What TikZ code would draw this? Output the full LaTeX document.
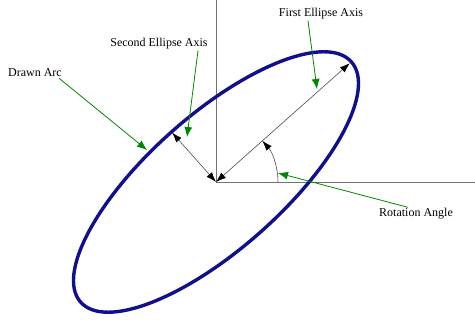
\documentclass[tikz,border=0pt]{standalone}
\usepackage{fontspec}
\setmainfont{Liberation Serif}
\usetikzlibrary{arrows.meta}
\definecolor{ellblue}{RGB}{16,16,140}
\definecolor{callgreen}{RGB}{0,135,0}
\begin{document}
\begin{tikzpicture}[x=1pt, y=1pt,
        label/.style={font=\fontsize{12}{14}\selectfont, inner sep=1pt},
        axis/.style={draw=black!55, line width=0.8pt},
        dim/.style={draw=black!70, line width=0.6pt, {Latex[length=10pt,width=7pt,color=black]}-{Latex[length=10pt,width=7pt,color=black]}},
        callout/.style={draw=callgreen, line width=0.8pt, -{Latex[length=10pt,width=8pt]}}
    ]
        \useasboundingbox (-216,-138) rectangle (259,182);

        \coordinate (center) at (0,0);
        \coordinate (ytop) at (0,182);
        \coordinate (xend) at (259,0);
        \coordinate (major) at (41.6:179);
        \coordinate (minor) at (131.6:66);

        \draw[axis] (center) -- (ytop);
        \draw[axis] (center) -- (xend);

        \draw[ellblue, line width=3.4pt, rotate=41.6] (center) ellipse (181 and 67);

        \draw[dim] (center) -- (major);
        \draw[dim] (center) -- (minor);
        \draw[draw=black!70, line width=0.6pt, -{Latex[length=10pt,width=7pt,color=black]}] (62,0) arc (0:41.6:62);

        \node[label] (first) at (105,168) {First Ellipse Axis};
        \node[label] (second) at (-57,138) {Second Ellipse Axis};
        \node[label] (drawn) at (-181,109) {Drawn Arc};
        \node[label] (rotation) at (200,-32) {Rotation Angle};

        \coordinate (firsttip) at (101,93);
        \coordinate (secondtip) at (-29,45);
        \coordinate (drawntip) at (-69,32);
        \coordinate (rotationtip) at (62,9);

        \draw[callout] ([xshift=-13pt]first.south) -- (firsttip);
        \draw[callout] ([xshift=39pt]second.south) -- (secondtip);
        \draw[callout] ([xshift=-4pt]drawn.south east) -- (drawntip);
        \draw[callout] ([xshift=-8pt]rotation.north) -- (rotationtip);
    \end{tikzpicture}
\end{document}
